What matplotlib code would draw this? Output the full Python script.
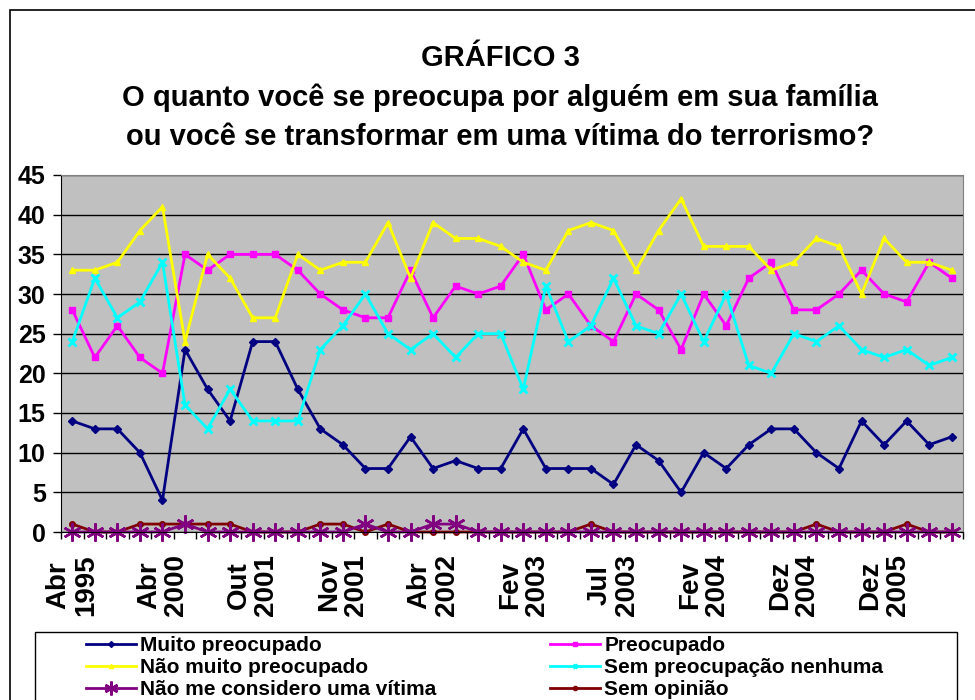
import numpy as np
import matplotlib
matplotlib.use("Agg")
from matplotlib import pyplot as plt
from matplotlib.patches import Rectangle

# data (40 survey points)
tick_labels = ["Abr\n1995", "Abr\n2000", "Out\n2001", "Nov\n2001", "Abr\n2002",
               "Fev\n2003", "Jul\n2003", "Fev\n2004", "Dez\n2004", "Dez\n2005"]
muito = [14, 13, 13, 10, 4, 23, 18, 14, 24, 24, 18, 13, 11, 8, 8, 12, 8, 9, 8, 8,
         13, 8, 8, 8, 6, 11, 9, 5, 10, 8, 11, 13, 13, 10, 8, 14, 11, 14, 11, 12]
preocupado = [28, 22, 26, 22, 20, 35, 33, 35, 35, 35, 33, 30, 28, 27, 27, 33, 27, 31, 30, 31,
              35, 28, 30, 26, 24, 30, 28, 23, 30, 26, 32, 34, 28, 28, 30, 33, 30, 29, 34, 32]
nao_muito = [33, 33, 34, 38, 41, 24, 35, 32, 27, 27, 35, 33, 34, 34, 39, 32, 39, 37, 37, 36,
             34, 33, 38, 39, 38, 33, 38, 42, 36, 36, 36, 33, 34, 37, 36, 30, 37, 34, 34, 33]
sem_preoc = [24, 32, 27, 29, 34, 16, 13, 18, 14, 14, 14, 23, 26, 30, 25, 23, 25, 22, 25, 25,
             18, 31, 24, 26, 32, 26, 25, 30, 24, 30, 21, 20, 25, 24, 26, 23, 22, 23, 21, 22]
nao_vitima = [0, 0, 0, 0, 0, 1, 0, 0, 0, 0, 0, 0, 0, 1, 0, 0, 1, 1, 0, 0,
              0, 0, 0, 0, 0, 0, 0, 0, 0, 0, 0, 0, 0, 0, 0, 0, 0, 0, 0, 0]
sem_opiniao = [1, 0, 0, 1, 1, 1, 1, 1, 0, 0, 0, 1, 1, 0, 1, 0, 0, 0, 0, 0,
               0, 0, 0, 1, 0, 0, 0, 0, 0, 0, 0, 0, 0, 1, 0, 0, 0, 1, 0, 0]

plt.rcParams['font.family'] = ['Liberation Sans', 'DejaVu Sans']

W, H = 975, 700
x = np.arange(len(muito))

fig = plt.figure(figsize=(W/100, H/100), dpi=100)
# outer chart border (left + top visible)
fig.patches.append(Rectangle((10/W, -0.1), 1.1, (H-10)/H + 0.1, transform=fig.transFigure,
                             fill=False, edgecolor='black', linewidth=1.2))

ax = fig.add_axes([61/W, 1-532/H, (963-61)/W, (532-175)/H])
ax.set_facecolor('#C0C0C0')

l1, = ax.plot(x, muito, color='#000080', marker='D', markersize=4, lw=2)
l2, = ax.plot(x, preocupado, color='#FF00FF', marker='s', markersize=4, lw=2)
l3, = ax.plot(x, nao_muito, color='#FFFF00', marker='^', markersize=5, lw=2)
l4, = ax.plot(x, sem_preoc, color='#00FFFF', marker='x', markersize=6, mew=2, lw=2)
l6, = ax.plot(x, sem_opiniao, color='#800000', marker='o', markersize=4, lw=2, clip_on=False)
l5, = ax.plot(x, nao_vitima, color='#800080', marker=(6, 2, 0), markersize=13, mew=1.8, lw=2,
              clip_on=False)

ax.set_xlim(-0.5, len(x) - 0.5)
ax.set_ylim(0, 45)
ax.set_yticks(np.arange(0, 46, 5))
ax.yaxis.grid(True, color='black', lw=1)
ax.set_axisbelow(True)
ax.tick_params(axis='y', labelsize=18, length=6, width=1, pad=5)
for t in ax.get_yticklabels():
    t.set_fontweight('bold')

ax.set_xticks(x[::4])
ax.set_xticklabels(tick_labels, rotation=90, fontsize=20, fontweight='bold',
                   linespacing=1.05, multialignment='center')
ax.set_xticks(np.arange(-0.5, len(x), 1), minor=True)
ax.tick_params(axis='x', which='major', length=0, pad=16)
ax.tick_params(axis='x', which='minor', length=5, width=1)

for side in ['top', 'right']:
    ax.spines[side].set_color('#808080')
ax.spines['left'].set_color('black')
ax.spines['bottom'].set_color('black')

tx = 0.513
fig.text(tx, 1-66/H, "GRÁFICO 3", ha='center', va='baseline', fontsize=21, fontweight='bold')
fig.text(tx, 1-106/H, "O quanto você se preocupa por alguém em sua família",
         ha='center', va='baseline', fontsize=21, fontweight='bold')
fig.text(tx, 1-145/H, "ou você se transformar em uma vítima do terrorismo?",
         ha='center', va='baseline', fontsize=21, fontweight='bold')

# legend frame, then two one-column legends inside it
fig.patches.append(Rectangle((35/W, -0.1), (957-35)/W, (H-632)/H + 0.1, transform=fig.transFigure,
                             fill=False, edgecolor='black', linewidth=1))
leg_kw = dict(loc='upper left', frameon=False, handlelength=2.4, handletextpad=0.2,
              labelspacing=0.15, borderpad=0, borderaxespad=0,
              prop={'weight': 'bold', 'size': 15})
leg1 = fig.legend([l1, l3, l5], ["Muito preocupado", "Não muito preocupado",
                                 "Não me considero uma vítima"],
                  bbox_to_anchor=(86/W, 1-636/H), **leg_kw)
leg2 = fig.legend([l2, l4, l6], ["Preocupado", "Sem preocupação nenhuma", "Sem opinião"],
                  bbox_to_anchor=(550/W, 1-636/H), **leg_kw)
for leg in (leg1, leg2):
    for h in leg.legend_handles:
        h.set_markersize(10 if h.get_marker() == (6, 2, 0) else 3)
        h.set_linewidth(2)

fig.savefig("out.png", dpi=100)
